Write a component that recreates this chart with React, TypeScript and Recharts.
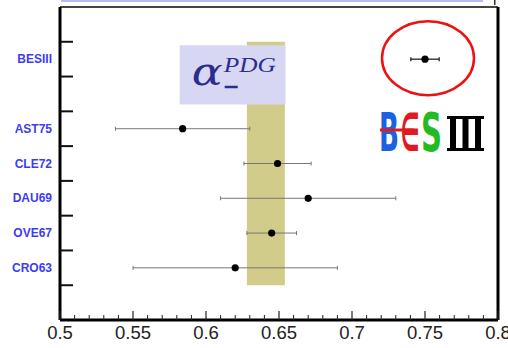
import { ScatterChart, Scatter, XAxis, YAxis, ErrorBar, ReferenceArea, ReferenceDot, ReferenceLine } from "recharts"

// slots on the vertical axis, top to bottom (empty strings are spacer rows)
const rowLabels = ["", "BESIII", "", "AST75", "CLE72", "DAU69", "OVE67", "CRO63", ""]

const experiments = ["BESIII", "AST75", "CLE72", "DAU69", "OVE67", "CRO63"]
const alphaValues = [0.75, 0.584, 0.649, 0.67, 0.645, 0.62]
const alphaErrors = [0.0097, 0.046, 0.023, 0.06, 0.017, 0.07]

const pdgAverage = 0.641
const pdgError = 0.013

const majorTickLabels = ["0.5", "0.55", "0.6", "0.65", "0.7", "0.75", "0.8"]
const minorStep = 0.01

const BLUE_LABEL = "#3c3cf5"

const rowY = (name: string) => rowLabels.length - 0.5 - rowLabels.indexOf(name)

const points = experiments.map((name, i) => ({
    name,
    x: alphaValues[i],
    y: rowY(name),
    err: alphaErrors[i],
}))
const besPoints = points.filter((p) => p.name === "BESIII")
const oldPoints = points.filter((p) => p.name !== "BESIII")

const xMin = Number(majorTickLabels[0])
const xMax = Number(majorTickLabels[majorTickLabels.length - 1])
const xTicks: number[] = []
for (let v = xMin; v <= xMax + 1e-9; v += minorStep) xTicks.push(Math.round(v * 100) / 100)

const yTicks: number[] = []
rowLabels.forEach((_, i) => {
    yTicks.push(i + 0.5)
    if (i > 0) yTicks.push(i)
})

function RowTick(props: any) {
    const { x, y, payload } = props
    const v = payload.value as number
    if (Number.isInteger(v)) {
        return <line x1={x} x2={x + 13} y1={y} y2={y} stroke="#111" strokeWidth={2} />
    }
    const label = rowLabels[rowLabels.length - 0.5 - v]
    if (!label) return <g />
    return (
        <text x={x - 8} y={y} dy={4} textAnchor="end" fill={BLUE_LABEL} fontSize={12} fontWeight="bold"
            fontFamily="Liberation Sans, Arial, sans-serif">
            {label}
        </text>
    )
}

function ValueTick(props: any) {
    const { x, y, payload } = props
    const v = payload.value as number
    const label = majorTickLabels.find((l) => Math.abs(Number(l) - v) < 1e-6)
    if (!label) {
        return <line x1={x} x2={x} y1={y} y2={y - 5} stroke="#222" strokeWidth={1} />
    }
    return (
        <g>
            <line x1={x} x2={x} y1={y} y2={y - 9} stroke="#222" strokeWidth={1.2} />
            <text x={x} y={y + 19} textAnchor="middle" fill="#222" fontSize={18.5}
                fontFamily="Liberation Sans, Arial, sans-serif">
                {label}
            </text>
        </g>
    )
}

function AlphaLabel(props: any) {
    const vb = props.viewBox || {}
    const x0 = vb.x ?? 0
    const y0 = vb.y ?? 0
    return (
        <g fontStyle="italic" fill="#2c2c8e">
            <text x={x0 + 12} y={y0 + 40} fontSize={40} fontFamily="DejaVu Serif, serif"
                textLength={31} lengthAdjust="spacingAndGlyphs">α</text>
            <text x={x0 + 44} y={y0 + 27} fontSize={21} fontFamily="Liberation Serif, serif"
                textLength={52} lengthAdjust="spacingAndGlyphs">PDG</text>
            <rect x={x0 + 45} y={y0 + 40.5} width={13} height={2.5} fill="#2c2c8e" />
        </g>
    )
}

function Ellipse(props: any) {
    const { cx, cy } = props
    return <ellipse cx={cx + 3} cy={cy - 1} rx={46} ry={37} fill="none" stroke="#ee1111" strokeWidth={2.5} />
}

const dot = (p: any) => <circle cx={p.cx} cy={p.cy} r={3.6} fill="#000" />

export default function App() {
    return (
        <div style={{ position: "absolute", left: 0, top: 0, width: 508, height: 348, background: "#fff" }}>
            <ScatterChart width={508} height={348} margin={{ top: 7, right: 10, bottom: 0, left: 0 }}>
                <XAxis
                    type="number"
                    dataKey="x"
                    domain={[xMin, xMax]}
                    ticks={xTicks}
                    interval={0}
                    height={28}
                    tickSize={0}
                    tickMargin={0}
                    tickLine={false}
                    tick={<ValueTick />}
                    axisLine={{ stroke: "#000", strokeWidth: 3 }}
                    allowDataOverflow
                />
                <YAxis
                    type="number"
                    dataKey="y"
                    domain={[0, rowLabels.length]}
                    ticks={yTicks}
                    interval={0}
                    width={60}
                    tickSize={0}
                    tickMargin={0}
                    tickLine={false}
                    tick={<RowTick />}
                    axisLine={{ stroke: "#000", strokeWidth: 3 }}
                    allowDataOverflow
                />
                <ReferenceLine y={rowLabels.length} stroke="#444" strokeWidth={2} />
                <ReferenceLine x={xMax} stroke="#000" strokeWidth={3} />
                <ReferenceArea
                    x1={pdgAverage - pdgError}
                    x2={pdgAverage + pdgError}
                    y1={1}
                    y2={rowLabels.length - 1}
                    fill="#d2cc8a"
                    fillOpacity={1}
                    stroke="none"
                />
                <ReferenceArea
                    x1={0.582}
                    x2={0.6545}
                    y1={6.2}
                    y2={7.9}
                    fill="#d7d7f3"
                    fillOpacity={1}
                    stroke="none"
                    label={<AlphaLabel />}
                />
                <Scatter data={oldPoints} shape={dot} isAnimationActive={false}>
                    <ErrorBar dataKey="err" direction="x" width={2} stroke="#777" strokeWidth={1} isAnimationActive={false} />
                </Scatter>
                <Scatter data={besPoints} shape={dot} isAnimationActive={false}>
                    <ErrorBar dataKey="err" direction="x" width={2} stroke="#222" strokeWidth={1.3} isAnimationActive={false} />
                </Scatter>
                <ReferenceDot x={alphaValues[0]} y={rowY("BESIII")} shape={<Ellipse />} />
            </ScatterChart>
            <svg width={508} height={348} style={{ position: "absolute", left: 0, top: 0, pointerEvents: "none" }}>
                {/* clipped caption line above the frame */}
                <rect x={61} y={0} width={422} height={2} fill="#b3bdee" />
                <rect x={494} y={0} width={1.5} height={5} fill="#333" />
                {/* BESIII logo */}
                <g fontFamily="DejaVu Sans, sans-serif" fontWeight="bold">
                    <text x={379} y={151} fontSize={53} fill="#1c62e0" textLength={20} lengthAdjust="spacingAndGlyphs">B</text>
                    <text x={400.5} y={151} fontSize={53} fill="#e01a22" textLength={19} lengthAdjust="spacingAndGlyphs">∈</text>
                    <rect x={380} y={128.5} width={34} height={3} fill="#e01a22" />
                    <text x={421} y={151} fontSize={53} fill="#22bb22" textLength={21} lengthAdjust="spacingAndGlyphs">S</text>
                </g>
                <g fill="#000">
                    <rect x={447} y={116} width={37} height={3} />
                    <rect x={447} y={148} width={37} height={3} />
                    <rect x={450} y={116} width={6} height={35} />
                    <rect x={462.5} y={116} width={6} height={35} />
                    <rect x={475} y={116} width={6} height={35} />
                </g>
            </svg>
        </div>
    )
}
